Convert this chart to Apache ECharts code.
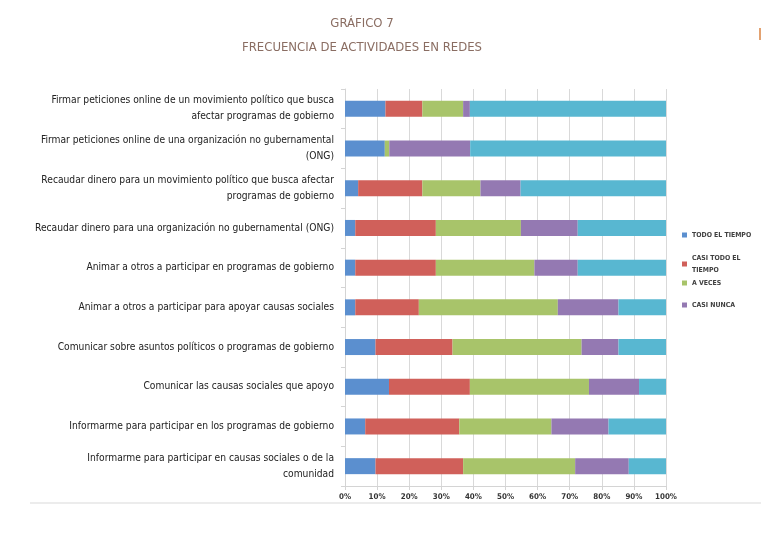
<!DOCTYPE html>
<html>
<head>
<meta charset="utf-8">
<script src="https://cdn.jsdelivr.net/npm/echarts@6/dist/echarts.min.js"></script>
<style>
html,body{margin:0;padding:0;background:#fff;}
#chart{width:761px;height:535px;}
</style>
</head>
<body>
<div id="chart"></div>
<script>
var categories = [
  "Firmar peticiones online de un movimiento político que busca\nafectar programas de gobierno",
  "Firmar peticiones online de una organización no gubernamental\n(ONG)",
  "Recaudar dinero para un movimiento político que busca afectar\nprogramas de gobierno",
  "Recaudar dinero para una organización no gubernamental (ONG)",
  "Animar a otros a participar en programas de gobierno",
  "Animar a otros a participar para apoyar causas sociales",
  "Comunicar sobre asuntos políticos o programas de gobierno",
  "Comunicar las causas sociales que apoyo",
  "Informarme para participar en los programas de gobierno",
  "Informarme para participar en causas sociales o de la\ncomunidad"
];
var seriesNames = ["TODO EL TIEMPO", "CASI TODO EL TIEMPO", "A VECES", "CASI NUNCA", "NUNCA"];
var todoElTiempo     = [12.6, 12.4, 4.1, 3.2, 3.2, 3.2, 9.5, 13.7, 6.3, 9.5];
var casiTodoElTiempo = [11.5, 0.0, 20.0, 25.1, 25.1, 19.8, 24.0, 25.2, 29.3, 27.3];
var aVeces           = [12.7, 1.4, 18.1, 26.5, 30.7, 43.3, 40.2, 37.1, 28.7, 34.9];
var casiNunca        = [2.1, 25.2, 12.5, 17.7, 13.5, 18.9, 11.5, 15.6, 17.8, 16.7];
var nunca            = [61.1, 61.0, 45.3, 27.5, 27.5, 14.8, 14.8, 8.4, 17.9, 11.6];
var xTicks = [0, 10, 20, 30, 40, 50, 60, 70, 80, 90, 100];

var colors = ["#5b8fcf", "#d0605a", "#a8c46a", "#9479b2", "#58b7d1"];
var values = [todoElTiempo, casiTodoElTiempo, aVeces, casiNunca, nunca];

// pick a narrow font if installed
var cv = document.createElement('canvas').getContext('2d');
function w(font, txt) { cv.font = font; return cv.measureText(txt).width; }
var probe = 'abcdefghijklmnopqrstuvwxyz ABCDEFGHIJ 0123';
function has(name) {
  return w('20px "' + name + '", monospace', probe) !== w('20px monospace', probe) ||
         w('20px "' + name + '", serif', probe) !== w('20px serif', probe);
}
var cands = ['Liberation Sans Narrow', 'Arial Narrow', 'DejaVu Sans Condensed', 'Roboto Condensed', 'Open Sans Condensed', 'Liberation Sans'];
var FONT = 'sans-serif';
for (var i = 0; i < cands.length; i++) { if (has(cands[i])) { FONT = cands[i]; break; } }
function fit(txt, target, weight) {
  var ww = w((weight || 'normal') + ' 100px "' + FONT + '"', txt);
  return Math.round(100 * target / ww * 10) / 10;
}
var labelSize = fit('Firmar peticiones online de un movimiento político que busca', 284);
var titleSize = fit('FRECUENCIA DE ACTIVIDADES EN REDES', 240);
var legendSize = fit('TODO EL TIEMPO', 59, 'bold');
var tickSize = fit('100%', 22, 'bold');

var series = seriesNames.map(function (n, i) {
  return {
    name: n, type: 'bar', stack: 'total', barWidth: 16,
    data: values[i],
    itemStyle: { color: colors[i] },
    emphasis: { disabled: true }
  };
});

var legendTops = [224, 247, 272, 294];
var legends = seriesNames.slice(0, 4).map(function (n, i) {
  return {
    data: [n], left: 677, top: legendTops[i], orient: 'vertical',
    icon: 'rect', itemWidth: 5, itemHeight: 5, itemGap: 0,
    selectedMode: false,
    formatter: function (name) { return name === 'CASI TODO EL TIEMPO' ? 'CASI TODO EL\nTIEMPO' : name; },
    textStyle: { fontFamily: FONT, fontSize: legendSize, fontWeight: 'bold', color: '#404040', lineHeight: 12 }
  };
});

var chart = echarts.init(document.getElementById('chart'), null, { renderer: 'canvas' });
chart.setOption({
  backgroundColor: '#ffffff',
  animation: false,
  color: colors,
  title: [
    { text: 'GRÁFICO 7', left: 357, top: 12, textAlign: 'center',
      textStyle: { fontFamily: FONT, fontSize: titleSize, fontWeight: 'normal', color: '#8a6d62' } },
    { text: 'FRECUENCIA DE ACTIVIDADES EN REDES', left: 357, top: 36, textAlign: 'center',
      textStyle: { fontFamily: FONT, fontSize: titleSize, fontWeight: 'normal', color: '#8a6d62' } }
  ],
  legend: legends,
  grid: { left: 345, right: 95, top: 89, bottom: 49, containLabel: false, outerBoundsMode: 'none' },
  xAxis: {
    type: 'value', min: 0, max: 100, interval: 10,
    axisLine: { show: true, lineStyle: { color: '#d4d4d4' } },
    axisTick: { show: true, length: 4, lineStyle: { color: '#d4d4d4' } },
    splitLine: { show: true, lineStyle: { color: '#d9d9d9', width: 1 } },
    axisLabel: {
      margin: 7, formatter: function (v) { return xTicks.indexOf(v) >= 0 ? v + '%' : ''; },
      fontFamily: FONT, fontSize: tickSize, fontWeight: 'bold', color: '#333'
    }
  },
  yAxis: {
    type: 'category', inverse: true, data: categories,
    axisLine: { show: true, lineStyle: { color: '#d4d4d4' } },
    axisTick: { show: true, length: 4, lineStyle: { color: '#d4d4d4' } },
    axisLabel: {
      margin: 11, align: 'right', lineHeight: 16, padding: [3, 0, 0, 0],
      fontFamily: FONT, fontSize: labelSize, color: '#222'
    }
  },
  graphic: [
    { type: 'rect', shape: { x: 30, y: 502, width: 731, height: 2 }, style: { fill: '#ececec' }, silent: true },
    { type: 'rect', shape: { x: 759, y: 28, width: 2, height: 12 }, style: { fill: '#e3a271' }, silent: true }
  ],
  series: series
});
</script>
</body>
</html>
